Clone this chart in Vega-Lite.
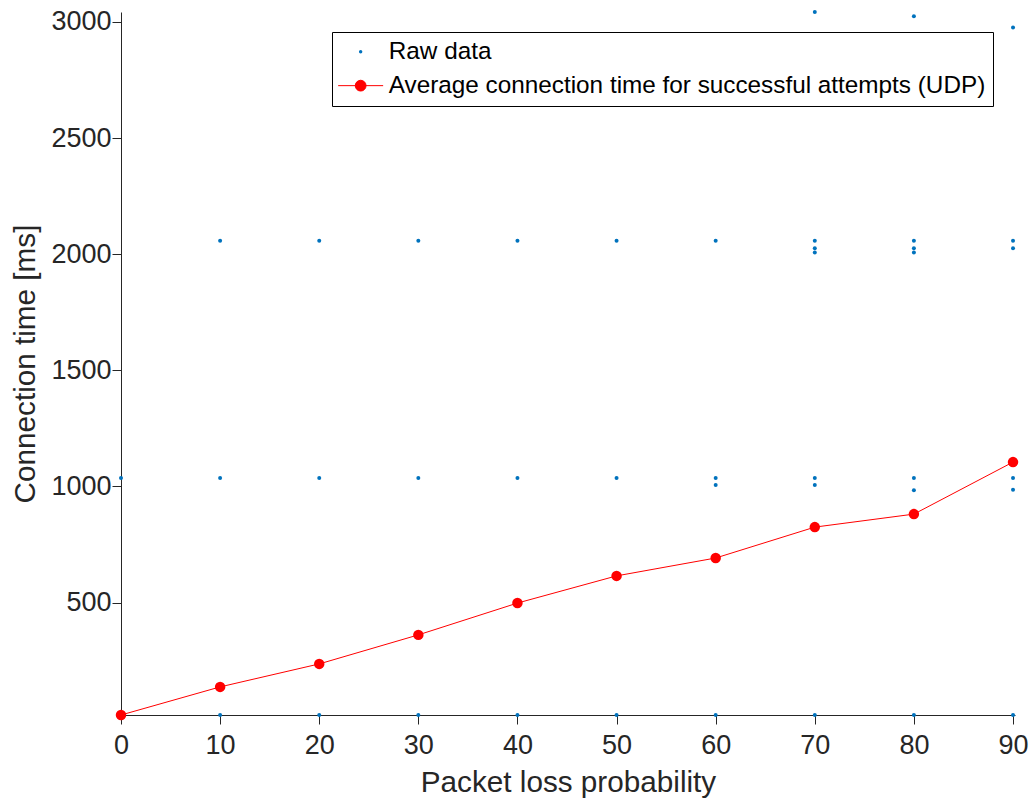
{
  "$schema": "https://vega.github.io/schema/vega-lite/v6.json",
  "width": 894,
  "height": 703,
  "autosize": {"type": "none"},
  "padding": {"left": 121, "top": 12, "right": 18, "bottom": 90},
  "background": "white",
  "config": {
    "view": {"stroke": null},
    "font": "Liberation Sans",
    "axis": {
      "grid": false,
      "domainColor": "#262626",
      "domainWidth": 1,
      "tickColor": "#262626",
      "tickWidth": 1,
      "tickSize": 9,
      "labelFont": "Liberation Sans",
      "labelFontSize": 27,
      "labelColor": "#262626",
      "labelFlush": false,
      "labelOverlap": false,
      "format": "d",
      "titleFont": "Liberation Sans",
      "titleFontSize": 29.7,
      "titleFontWeight": "normal",
      "titleColor": "#262626"
    },
    "legend": {
      "labelFont": "Liberation Sans",
      "labelFontSize": 24.3,
      "labelColor": "#000000",
      "labelLimit": 0
    }
  },
  "datasets": {
    "raw": [
      {"loss": 0, "time": 16, "series": "Raw data"},
      {"loss": 0, "time": 1036, "series": "Raw data"},
      {"loss": 10, "time": 16, "series": "Raw data"},
      {"loss": 10, "time": 1036, "series": "Raw data"},
      {"loss": 10, "time": 2058, "series": "Raw data"},
      {"loss": 20, "time": 16, "series": "Raw data"},
      {"loss": 20, "time": 1036, "series": "Raw data"},
      {"loss": 20, "time": 2058, "series": "Raw data"},
      {"loss": 30, "time": 16, "series": "Raw data"},
      {"loss": 30, "time": 1036, "series": "Raw data"},
      {"loss": 30, "time": 2058, "series": "Raw data"},
      {"loss": 40, "time": 16, "series": "Raw data"},
      {"loss": 40, "time": 1036, "series": "Raw data"},
      {"loss": 40, "time": 2058, "series": "Raw data"},
      {"loss": 50, "time": 16, "series": "Raw data"},
      {"loss": 50, "time": 1036, "series": "Raw data"},
      {"loss": 50, "time": 2058, "series": "Raw data"},
      {"loss": 60, "time": 16, "series": "Raw data"},
      {"loss": 60, "time": 1036, "series": "Raw data"},
      {"loss": 60, "time": 1006, "series": "Raw data"},
      {"loss": 60, "time": 2058, "series": "Raw data"},
      {"loss": 70, "time": 16, "series": "Raw data"},
      {"loss": 70, "time": 1036, "series": "Raw data"},
      {"loss": 70, "time": 1006, "series": "Raw data"},
      {"loss": 70, "time": 2058, "series": "Raw data"},
      {"loss": 70, "time": 2026, "series": "Raw data"},
      {"loss": 70, "time": 2007, "series": "Raw data"},
      {"loss": 70, "time": 3043, "series": "Raw data"},
      {"loss": 80, "time": 16, "series": "Raw data"},
      {"loss": 80, "time": 1036, "series": "Raw data"},
      {"loss": 80, "time": 984, "series": "Raw data"},
      {"loss": 80, "time": 2058, "series": "Raw data"},
      {"loss": 80, "time": 2026, "series": "Raw data"},
      {"loss": 80, "time": 2007, "series": "Raw data"},
      {"loss": 80, "time": 3025, "series": "Raw data"},
      {"loss": 90, "time": 16, "series": "Raw data"},
      {"loss": 90, "time": 1036, "series": "Raw data"},
      {"loss": 90, "time": 986, "series": "Raw data"},
      {"loss": 90, "time": 2058, "series": "Raw data"},
      {"loss": 90, "time": 2026, "series": "Raw data"},
      {"loss": 90, "time": 2976, "series": "Raw data"}
    ],
    "avg": [
      {"loss": 0, "time": 16, "series": "Average connection time for successful attempts (UDP)"},
      {"loss": 10, "time": 137, "series": "Average connection time for successful attempts (UDP)"},
      {"loss": 20, "time": 236, "series": "Average connection time for successful attempts (UDP)"},
      {"loss": 30, "time": 361, "series": "Average connection time for successful attempts (UDP)"},
      {"loss": 40, "time": 498, "series": "Average connection time for successful attempts (UDP)"},
      {"loss": 50, "time": 615, "series": "Average connection time for successful attempts (UDP)"},
      {"loss": 60, "time": 692, "series": "Average connection time for successful attempts (UDP)"},
      {"loss": 70, "time": 825, "series": "Average connection time for successful attempts (UDP)"},
      {"loss": 80, "time": 881, "series": "Average connection time for successful attempts (UDP)"},
      {"loss": 90, "time": 1105, "series": "Average connection time for successful attempts (UDP)"}
    ]
  },
  "encoding": {
    "x": {
      "field": "loss",
      "type": "quantitative",
      "scale": {"domain": [0, 90.2], "nice": false, "zero": false},
      "axis": {
        "values": [0, 10, 20, 30, 40, 50, 60, 70, 80, 90],
        "labelPadding": 8,
        "title": "Packet loss probability",
        "titlePadding": 10,
        "encode": {"ticks": {"update": {"y2": {"value": -9}}}}
      }
    },
    "y": {
      "field": "time",
      "type": "quantitative",
      "scale": {"domain": [16, 3043], "nice": false, "zero": false},
      "axis": {
        "values": [500, 1000, 1500, 2000, 2500, 3000],
        "labelPadding": 1,
        "title": "Connection time [ms]",
        "titlePadding": 10,
        "encode": {"ticks": {"update": {"x2": {"value": 9}}}}
      }
    },
    "color": {
      "field": "series",
      "type": "nominal",
      "scale": {
        "domain": ["Raw data", "Average connection time for successful attempts (UDP)"],
        "range": ["#0072BD", "#FF0000"]
      },
      "legend": {
        "title": null,
        "orient": "none",
        "legendX": 211,
        "legendY": 20,
        "strokeColor": "#000000",
        "fillColor": "#FFFFFF",
        "padding": 7.5,
        "symbolSize": 2025,
        "symbolOffset": 9,
        "labelOffset": 16,
        "rowPadding": 9,
        "encode": {
          "symbols": {
            "update": {
              "shape": {"signal": "datum.value === 'Raw data' ? 'circle' : 'M-1,0L1,0M0.24,0A0.24,0.24,0,1,1,-0.24,0A0.24,0.24,0,1,1,0.24,0Z'"},
              "size": {"signal": "datum.value === 'Raw data' ? 12 : 2025"},
              "fill": {"signal": "datum.value === 'Raw data' ? '#0072BD' : '#FF0000'"},
              "stroke": {"signal": "datum.value === 'Raw data' ? '#0072BD' : '#FF0000'"},
              "strokeWidth": {"signal": "datum.value === 'Raw data' ? 0 : 1"},
              "opacity": {"value": 1},
              "fillOpacity": {"value": 1},
              "strokeOpacity": {"value": 1}
            }
          }
        }
      }
    }
  },
  "layer": [
    {
      "data": {"name": "raw"},
      "mark": {"type": "point", "filled": true, "size": 16, "opacity": 1}
    },
    {
      "data": {"name": "avg"},
      "mark": {"type": "line", "strokeWidth": 1, "point": {"filled": true, "size": 110, "opacity": 1}}
    }
  ]
}
